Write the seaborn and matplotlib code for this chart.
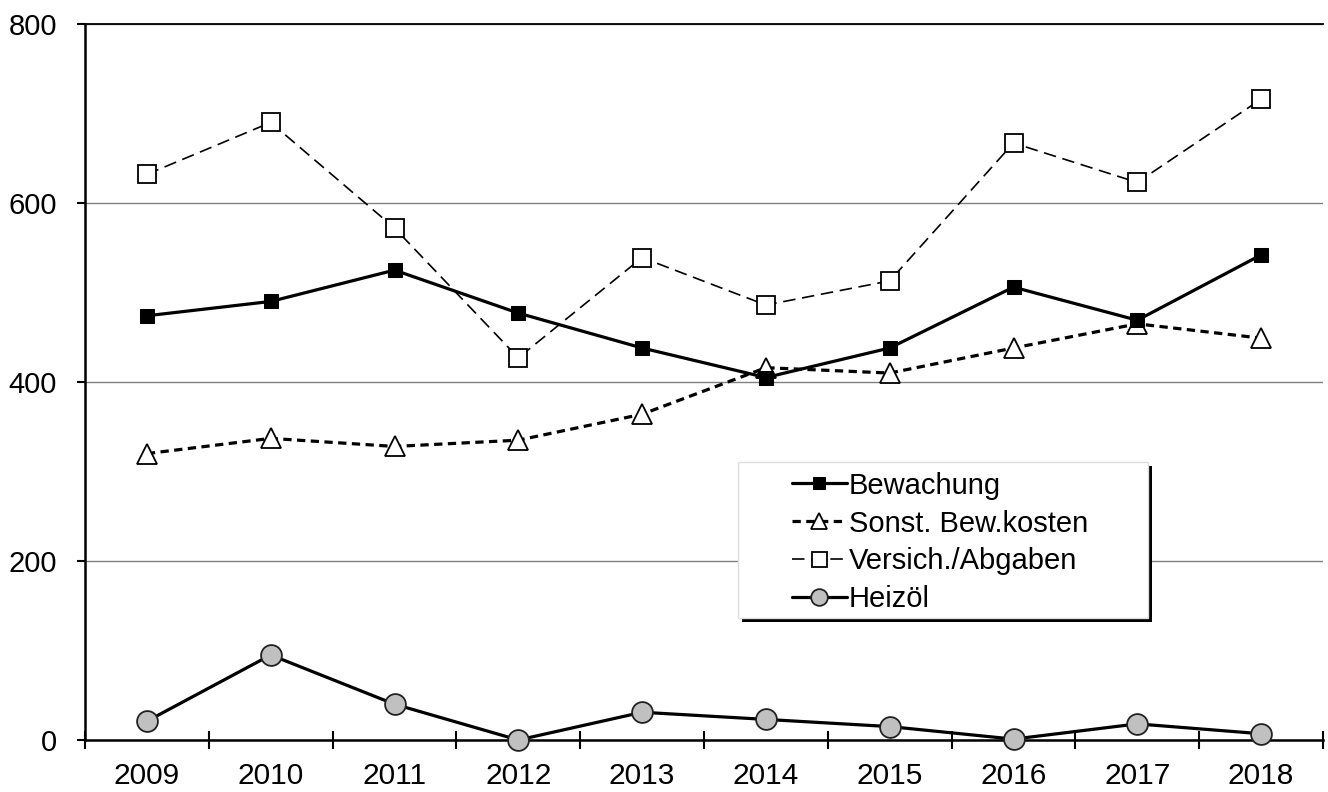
import matplotlib
matplotlib.use("Agg")
import matplotlib.pyplot as plt
import seaborn as sns
import numpy as np
from matplotlib.patches import Rectangle

years = ["2009", "2010", "2011", "2012", "2013", "2014", "2015", "2016", "2017", "2018"]
bewachung = [474, 490, 525, 477, 438, 405, 438, 506, 469, 542]
sonst = [320, 337, 328, 335, 364, 416, 410, 438, 465, 449]
versich = [632, 690, 572, 427, 539, 486, 513, 667, 623, 716]
heizoel = [21, 95, 40, 0, 31, 23, 15, 1, 18, 7]
labels = ["Bewachung", "Sonst. Bew.kosten", "Versich./Abgaben", "Heizöl"]
yticks = [0, 200, 400, 600, 800]

sns.set_theme(style="white")
plt.rcParams['font.family'] = ['Liberation Sans', 'DejaVu Sans']
plt.rcParams['text.color'] = 'black'
plt.rcParams['xtick.color'] = 'black'
plt.rcParams['ytick.color'] = 'black'

fig = plt.figure(figsize=(13.28, 7.92), dpi=100)
ax = fig.add_axes([85/1328, 1-740/792, (1323-85)/1328, (740-24)/792])

x = np.arange(len(years))
sns.lineplot(x=x, y=bewachung, ax=ax, color='black', lw=2.3, marker='s', ms=10.5,
             mfc='black', mec='black', label=labels[0], zorder=4)
sns.lineplot(x=x, y=sonst, ax=ax, color='black', lw=2.3, marker='^', ms=14,
             mfc='white', mec='black', mew=1.3, label=labels[1], zorder=3)
ax.lines[-1].set_dashes((2.6, 1.7))
sns.lineplot(x=x, y=versich, ax=ax, color='black', lw=1.2, marker='s', ms=13.5,
             mfc='white', mec='black', mew=1.3, label=labels[2], zorder=3)
ax.lines[-1].set_dashes((7.5, 4))
sns.lineplot(x=x, y=heizoel, ax=ax, color='black', lw=2.3, marker='o', ms=15,
             mfc='#c0c0c0', mec='#222222', mew=1.3, label=labels[3], zorder=4, clip_on=False)

ax.set_xlim(-0.5, len(years) - 0.5)
ax.set_ylim(0, 800)
ax.set_yticks(yticks)
ax.set_yticklabels([str(v) for v in yticks], fontsize=21)
ax.yaxis.grid(True, color='#808080', lw=1)
ax.set_axisbelow(True)

ax.set_xticks(np.arange(-0.5, len(years), 1.0))
ax.set_xticklabels([])
ax.set_xticks(x, minor=True)
ax.set_xticklabels(years, minor=True, fontsize=21.5)
ax.tick_params(axis='x', which='major', direction='inout', length=13, width=1.5, color='black', bottom=True)
ax.tick_params(axis='x', which='minor', length=0, pad=16)
ax.tick_params(axis='y', which='major', direction='out', length=6, width=1.5, color='black', left=True, pad=14)

for s in ['left', 'bottom']:
    ax.spines[s].set_color('black')
    ax.spines[s].set_linewidth(1.8)
ax.spines['top'].set_color('black')
ax.spines['top'].set_linewidth(1.3)
ax.spines['right'].set_visible(False)

ax.set_xlabel('')
ax.set_ylabel('')

# legend box with shadow
x0, x1 = (738-85)/1238, (1148-85)/1238
y0, y1 = (740-618)/716, (740-462)/716
ax.add_patch(Rectangle((x0+0.003, y0-0.006), x1-x0, y1-y0, transform=ax.transAxes,
                       facecolor='black', edgecolor='none', zorder=5))
ax.add_patch(Rectangle((x0, y0), x1-x0, y1-y0, transform=ax.transAxes,
                       facecolor='white', edgecolor='#dddddd', lw=1, zorder=6))
leg = ax.legend(loc='upper left', bbox_to_anchor=((792-85)/1238 - 0.012, (740-457)/716),
                frameon=False, fontsize=21, handlelength=1.9, handletextpad=0.05,
                labelspacing=0.34, borderpad=0, numpoints=1, markerscale=0.8)
for t in leg.get_texts():
    t.set_color('black')
leg.set_zorder(7)

fig.savefig('out.png', dpi=100)
